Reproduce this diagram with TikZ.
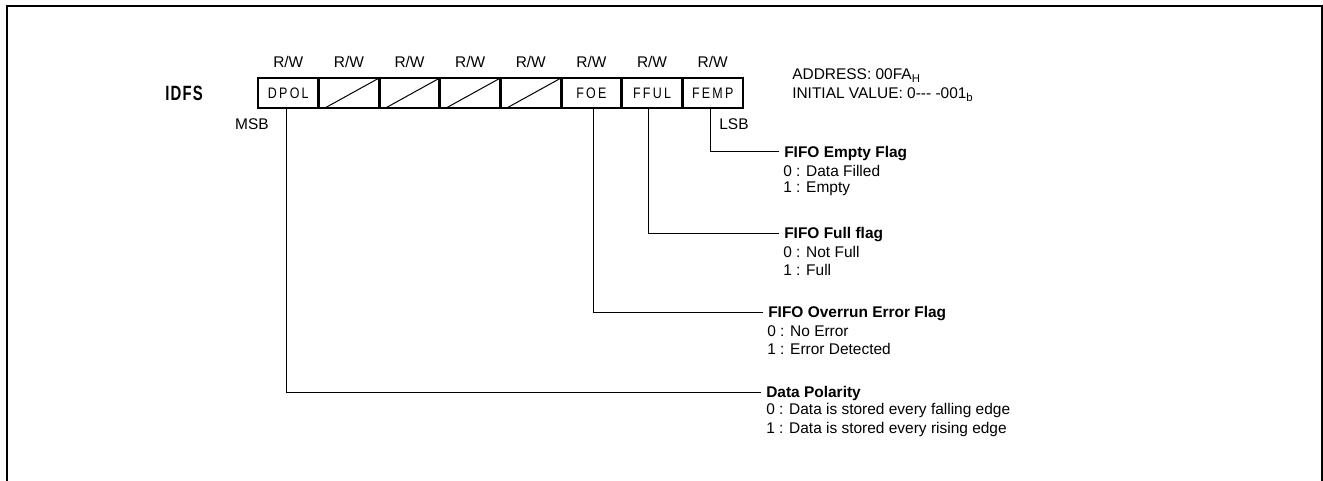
\documentclass[tikz,border=0pt]{standalone}
\usepackage{fontspec}
\usepackage{graphicx}
\setmainfont{Liberation Sans}
\newfontfamily\cellfont[LetterSpace=18]{Liberation Sans}
\newfontfamily\regfont[LetterSpace=8]{Liberation Sans}
\newcommand{\celltxt}[1]{\scalebox{0.82}[1]{\cellfont\fontsize{11.4pt}{13pt}\selectfont #1}}
\newcommand{\subtxt}[1]{\raisebox{-2.2pt}{\fontsize{8.5pt}{8.5pt}\selectfont #1}}
\begin{document}
\begin{tikzpicture}[x=0.75pt,y=-0.75pt,
  txt/.style={font=\fontsize{11.6pt}{13.8pt}\selectfont, inner sep=0pt},
  ttl/.style={font=\fontsize{11.6pt}{13.8pt}\selectfont\bfseries, inner xsep=3.75pt, inner ysep=0pt, text height=8.3pt, text depth=0pt, anchor=west},
  cellbox/.style={draw, line width=2.2pt, minimum width=45.47pt, minimum height=22.5pt, inner sep=0pt},
  diag/.style={line width=0.75pt},
  lead/.style={line width=0.75pt},
  frame/.style={line width=1.5pt}]
\useasboundingbox (0,0) rectangle (1323,481);
\draw[frame] (7,490) -- (7,6) -- (1322,6) -- (1322,490);

% register title
\node[inner sep=0pt] (reg) at (184,93) {\scalebox{0.72}[1]{\regfont\fontsize{15.5pt}{17pt}\selectfont\bfseries IDFS}};

% cells
\foreach \i/\t in {0/DPOL,1/,2/,3/,4/,5/FOE,6/FFUL,7/FEMP}{
  \node[cellbox] (c\i) at ({288.3+60.625*\i},93) {\celltxt{\t}};
  \node[txt] (rw\i) at ({288.3+60.625*\i},62) {R/W};
}
\foreach \i in {1,2,3,4}{
  \draw[diag] ([xshift=5.3pt,yshift=0.8pt]c\i.south west) -- ([yshift=-0.8pt,xshift=-0.6pt]c\i.north east);
}

\node[txt] (msb) at (252,124) {MSB};
\node[txt] (lsb) at (734,124) {LSB};

\node[txt, anchor=west] (addr) at (792,76) {ADDRESS: 00FA\subtxt{H}};
\node[txt, anchor=west] (init) at (792,95) {INITIAL VALUE: 0-{}-{}- -001\subtxt{b}};

% field descriptions
\node[ttl] (tEmp) at (779,152) {FIFO Empty Flag};
\node[txt, anchor=west] (tEmp0) at (783,171) {0 : Data Filled};
\node[txt, anchor=west] (tEmp1) at (783,189) {1 : Empty};

\node[ttl] (tFul) at (779,233) {FIFO Full flag};
\node[txt, anchor=west] (tFul0) at (783,252) {0 : Not Full};
\node[txt, anchor=west] (tFul1) at (783,270) {1 : Full};

\node[ttl] (tOvr) at (763,312) {FIFO Overrun Error Flag};
\node[txt, anchor=west] (tOvr0) at (767,331) {0 : No Error};
\node[txt, anchor=west] (tOvr1) at (767,349) {1 : Error Detected};

\node[ttl] (tPol) at (761,392) {Data Polarity};
\node[txt, anchor=west] (tPol0) at (766,410) {0 : Data is stored every falling edge};
\node[txt, anchor=west] (tPol1) at (766,429) {1 : Data is stored every rising edge};

% leader lines
\draw[lead] ([xshift=-1.3pt]c7.south) |- (tEmp.west);
\draw[lead] ([xshift=-2.3pt]c6.south) |- (tFul.west);
\draw[lead] ([xshift=1.2pt]c5.south) |- (tOvr.west);
\draw[lead] ([xshift=-1.7pt]c0.south) |- (tPol.west);
\end{tikzpicture}
\end{document}
